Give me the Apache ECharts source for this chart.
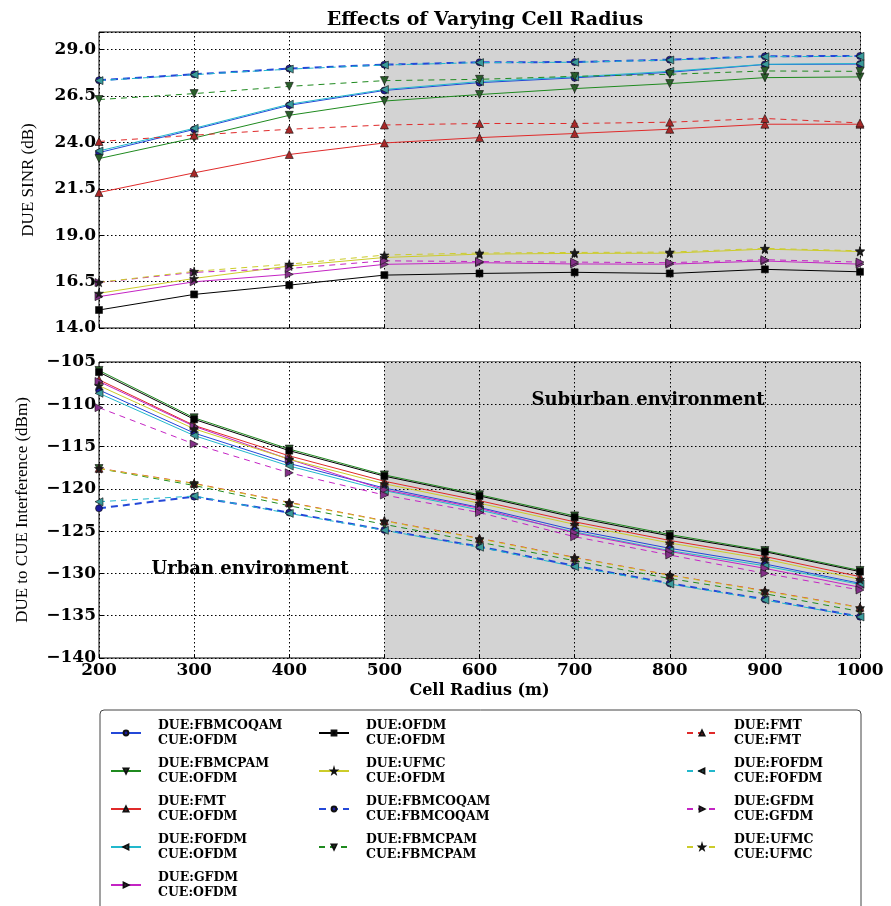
<!DOCTYPE html>
<html><head><meta charset="utf-8">
<script src="https://cdn.jsdelivr.net/npm/echarts@6/dist/echarts.min.js"></script>
<style>html,body{margin:0;padding:0;background:#fff}#c{width:891px;height:906px}</style>
</head><body><div id="c"></div>
<script>
// ---------- data ----------
const radius = [200, 300, 400, 500, 600, 700, 800, 900, 1000];
const xTicks = [200, 300, 400, 500, 600, 700, 800, 900, 1000];
const sinrTicks = [14.0, 16.5, 19.0, 21.5, 24.0, 26.5, 29.0];
const interfTicks = [-140, -135, -130, -125, -120, -115, -110, -105];

const seriesNames = [
  'DUE:FBMCOQAM\nCUE:OFDM', 'DUE:FBMCPAM\nCUE:OFDM', 'DUE:FMT\nCUE:OFDM', 'DUE:FOFDM\nCUE:OFDM',
  'DUE:GFDM\nCUE:OFDM', 'DUE:OFDM\nCUE:OFDM', 'DUE:UFMC\nCUE:OFDM',
  'DUE:FBMCOQAM\nCUE:FBMCOQAM', 'DUE:FBMCPAM\nCUE:FBMCPAM', 'DUE:FMT\nCUE:FMT',
  'DUE:FOFDM\nCUE:FOFDM', 'DUE:GFDM\nCUE:GFDM', 'DUE:UFMC\nCUE:UFMC'
];

// DUE SINR (dB)
const sinrFbmcoqamOfdm = [23.45, 24.70, 26.00, 26.80, 27.22, 27.48, 27.78, 28.20, 28.22];
const sinrFbmcpamOfdm  = [23.13, 24.24, 25.46, 26.23, 26.58, 26.90, 27.17, 27.49, 27.53];
const sinrFmtOfdm      = [21.30, 22.36, 23.35, 23.97, 24.26, 24.48, 24.71, 24.98, 24.98];
const sinrFofdmOfdm    = [23.54, 24.76, 26.06, 26.85, 27.28, 27.53, 27.83, 28.21, 28.25];
const sinrGfdmOfdm     = [15.69, 16.49, 16.89, 17.43, 17.52, 17.45, 17.44, 17.61, 17.44];
const sinrOfdmOfdm     = [14.97, 15.81, 16.31, 16.85, 16.94, 17.00, 16.94, 17.16, 17.03];
const sinrUfmcOfdm     = [15.87, 16.67, 17.34, 17.80, 17.98, 18.02, 18.03, 18.25, 18.12];
const sinrFbmcoqamFbmcoqam = [27.35, 27.67, 27.98, 28.19, 28.32, 28.33, 28.46, 28.64, 28.66];
const sinrFbmcpamFbmcpam   = [26.31, 26.63, 27.02, 27.33, 27.40, 27.56, 27.67, 27.85, 27.83];
const sinrFmtFmt           = [24.05, 24.39, 24.71, 24.94, 25.02, 25.02, 25.09, 25.29, 25.05];
const sinrFofdmFofdm       = [27.33, 27.65, 27.95, 28.17, 28.30, 28.32, 28.44, 28.62, 28.64];
const sinrGfdmGfdm         = [16.45, 17.00, 17.21, 17.62, 17.58, 17.55, 17.52, 17.68, 17.55];
const sinrUfmcUfmc         = [16.46, 17.05, 17.44, 17.93, 18.04, 18.07, 18.09, 18.29, 18.16];

// DUE to CUE interference (dBm)
const intfFbmcoqamOfdm = [-108.3, -113.4, -117.0, -119.9, -122.2, -124.87, -127.03, -128.88, -131.17];
const intfFbmcpamOfdm  = [-106.0, -111.6, -115.3, -118.35, -120.7, -123.2, -125.4, -127.3, -129.65];
const intfFmtOfdm      = [-107.1, -112.5, -116.1, -119.1, -121.4, -123.9, -126.1, -128.0, -130.38];
const intfFofdmOfdm    = [-108.7, -113.7, -117.3, -120.2, -122.5, -125.1, -127.3, -129.1, -131.3];
const intfGfdmOfdm     = [-107.3, -112.6, -116.5, -120.1, -122.3, -125.2, -127.4, -129.4, -131.64];
const intfOfdmOfdm     = [-106.2, -111.78, -115.48, -118.5, -120.84, -123.37, -125.57, -127.43, -129.79];
const intfUfmcOfdm     = [-107.8, -112.9, -116.5, -119.4, -121.7, -124.2, -126.4, -128.3, -130.7];
const intfFbmcoqamFbmcoqam = [-122.3, -120.92, -122.81, -124.86, -126.83, -129.1, -131.17, -133.06, -135.11];
const intfFbmcpamFbmcpam   = [-117.6, -119.6, -122.0, -124.2, -126.3, -128.5, -130.6, -132.4, -134.5];
const intfFmtFmt           = [-117.57, -119.35, -121.6, -123.76, -125.85, -128.1, -130.19, -132.04, -134.01];
const intfFofdmFofdm       = [-121.52, -120.85, -122.9, -124.9, -126.9, -129.2, -131.25, -133.15, -135.15];
const intfGfdmGfdm         = [-110.4, -114.7, -118.1, -120.73, -122.8, -125.66, -127.82, -129.99, -131.96];
const intfUfmcUfmc         = [-117.6, -119.4, -121.65, -123.8, -125.9, -128.15, -130.22, -132.1, -134.05];

const sinrData = [sinrFbmcoqamOfdm, sinrFbmcpamOfdm, sinrFmtOfdm, sinrFofdmOfdm, sinrGfdmOfdm, sinrOfdmOfdm, sinrUfmcOfdm,
  sinrFbmcoqamFbmcoqam, sinrFbmcpamFbmcpam, sinrFmtFmt, sinrFofdmFofdm, sinrGfdmGfdm, sinrUfmcUfmc];
const intfData = [intfFbmcoqamOfdm, intfFbmcpamOfdm, intfFmtOfdm, intfFofdmOfdm, intfGfdmOfdm, intfOfdmOfdm, intfUfmcOfdm,
  intfFbmcoqamFbmcoqam, intfFbmcpamFbmcpam, intfFmtFmt, intfFofdmFofdm, intfGfdmGfdm, intfUfmcUfmc];

// ---------- styles ----------
const STAR = 'path://M50,0 L61,35 L98,35 L68,57 L79,91 L50,70 L21,91 L32,57 L2,35 L39,35 Z';
const kinds = {
  blue:    {line: '#2448d8', fill: '#1c1c9c', symbol: 'circle', rot: 0, size: 7},
  green:   {line: '#1f8a1f', fill: '#2a5e2a', symbol: 'triangle', rot: 180, size: 8},
  red:     {line: '#e02a2a', fill: '#a82828', symbol: 'triangle', rot: 0, size: 8},
  cyan:    {line: '#22b8cc', fill: '#3a9a9a', symbol: 'triangle', rot: 90, size: 8},
  magenta: {line: '#c424c4', fill: '#843088', symbol: 'triangle', rot: -90, size: 8},
  black:   {line: '#000000', fill: '#000000', symbol: 'rect', rot: 0, size: 7},
  yellow:  {line: '#cccc2a', fill: '#1a1a1a', symbol: STAR, rot: 0, size: 9}
};
const styleOf = ['blue','green','red','cyan','magenta','black','yellow','blue','green','red','cyan','magenta','yellow'];
const dashedOf = [false,false,false,false,false,false,false,true,true,true,true,true,true];

function makeSeries(i, gi, data) {
  const k = kinds[styleOf[i]];
  const dashed = dashedOf[i];
  const wide = dashed && styleOf[i] === 'blue';
  return {
    type: 'line', name: seriesNames[i], xAxisIndex: gi, yAxisIndex: gi,
    data: radius.map((r, j) => [r, data[j]]),
    symbol: k.symbol, symbolRotate: k.rot, symbolSize: k.size, showAllSymbol: true,
    lineStyle: {color: k.line, width: wide ? 2 : 1, type: dashed ? (wide ? [7, 5] : [6, 5]) : 'solid'},
    itemStyle: {color: k.fill, borderColor: '#111', borderWidth: 0.6},
    emphasis: {disabled: true}, animation: false, z: dashed ? 3 : 2
  };
}
const series = [];
for (let i = 0; i < seriesNames.length; i++) series.push(makeSeries(i, 0, sinrData[i]));
for (let i = 0; i < seriesNames.length; i++) series.push(makeSeries(i, 1, intfData[i]));

const serif = 'DejaVu Serif';
const gridLine = {show: true, lineStyle: {color: '#000', width: 1, type: [1.5, 2.5]}};
const shade = ['rgba(0,0,0,0)','rgba(0,0,0,0)','rgba(0,0,0,0)','#d3d3d3','#d3d3d3','#d3d3d3','#d3d3d3','#d3d3d3'];
function xAx(gi, showLabels) {
  return {
    type: 'value', gridIndex: gi, min: xTicks[0], max: xTicks[xTicks.length - 1], interval: 100,
    axisLine: {show: false}, axisTick: {show: true, inside: true, length: 4, lineStyle: {color: '#000'}},
    axisLabel: {show: showLabels, fontFamily: serif, fontWeight: 'bold', fontSize: 17, color: '#000', margin: 4,
      formatter: v => String(v)},
    splitLine: gridLine, splitArea: {show: true, areaStyle: {color: shade}},
    name: showLabels ? 'Cell Radius (m)' : '', nameLocation: 'middle', nameGap: 25,
    nameTextStyle: {fontFamily: serif, fontWeight: 'bold', fontSize: 16, color: '#000'}, z: 0
  };
}
const option = {
  backgroundColor: '#fff', animation: false,
  title: {text: 'Effects of Varying Cell Radius', left: 480, top: 6, textAlign: 'center',
    textStyle: {fontFamily: serif, fontWeight: 'bold', fontSize: 19, color: '#000'}},
  grid: [
    {left: 99, top: 32, width: 761, height: 296, show: true, borderColor: '#000', borderWidth: 1, backgroundColor: 'transparent'},
    {left: 99, top: 362, width: 761, height: 296, show: true, borderColor: '#000', borderWidth: 1, backgroundColor: 'transparent'}
  ],
  xAxis: [xAx(0, false), xAx(1, true)],
  yAxis: [
    {type: 'value', gridIndex: 0, min: sinrTicks[0], max: 29.95, interval: 2.5, z: 1,
     axisLine: {show: false}, axisTick: {show: true, inside: true, length: 4, lineStyle: {color: '#000'}},
     axisLabel: {fontFamily: serif, fontWeight: 'bold', fontSize: 17, color: '#000', margin: 3,
       formatter: v => sinrTicks.some(t => Math.abs(t - v) < 1e-6) ? v.toFixed(1) : ''},
     splitLine: gridLine,
     name: 'DUE SINR (dB)', nameLocation: 'middle', nameGap: 62,
     nameTextStyle: {fontFamily: 'Liberation Serif', fontSize: 17, color: '#000'}},
    {type: 'value', gridIndex: 1, min: interfTicks[0], max: interfTicks[interfTicks.length - 1], interval: 5, z: 1,
     axisLine: {show: false}, axisTick: {show: true, inside: true, length: 4, lineStyle: {color: '#000'}},
     axisLabel: {fontFamily: serif, fontWeight: 'bold', fontSize: 17, color: '#000', margin: 3,
       formatter: v => (v < 0 ? '\u2212' : '') + Math.abs(v)},
     splitLine: gridLine,
     name: 'DUE to CUE Interference (dBm)', nameLocation: 'middle', nameGap: 68,
     nameTextStyle: {fontFamily: 'Liberation Serif', fontSize: 17, color: '#000'}}
  ],
  legend: [0, 1, 2].map(c => ({
    data: c === 0 ? seriesNames.slice(0, 5) : (c === 1 ? seriesNames.slice(5, 9) : seriesNames.slice(9)),
    orient: 'vertical', left: [110, 318, 686][c], top: 718, itemGap: 8, itemWidth: 30, itemHeight: 6,
    selectedMode: false, padding: 0,
    textStyle: {fontFamily: serif, fontWeight: 'bold', fontSize: 12.5, lineHeight: 15, color: '#000', padding: [0, 0, 0, 12]}
  })),
  graphic: [
    {type: 'rect', z: -1, shape: {x: 100, y: 710, width: 761, height: 205, r: 4},
     style: {fill: '#fff', stroke: '#444', lineWidth: 1}},
    {type: 'text', z: 100, x: 648, y: 400, style: {text: 'Suburban environment', fontFamily: serif, fontWeight: 'bold', fontSize: 18,
     fill: '#000', align: 'center', verticalAlign: 'middle'}},
    {type: 'text', z: 100, x: 250, y: 569, style: {text: 'Urban environment', fontFamily: serif, fontWeight: 'bold', fontSize: 18,
     fill: '#000', align: 'center', verticalAlign: 'middle'}}
  ],
  series: series
};
const chart = echarts.init(document.getElementById('c'), null, {renderer: 'canvas'});
chart.setOption(option);
</script>
</body></html>
